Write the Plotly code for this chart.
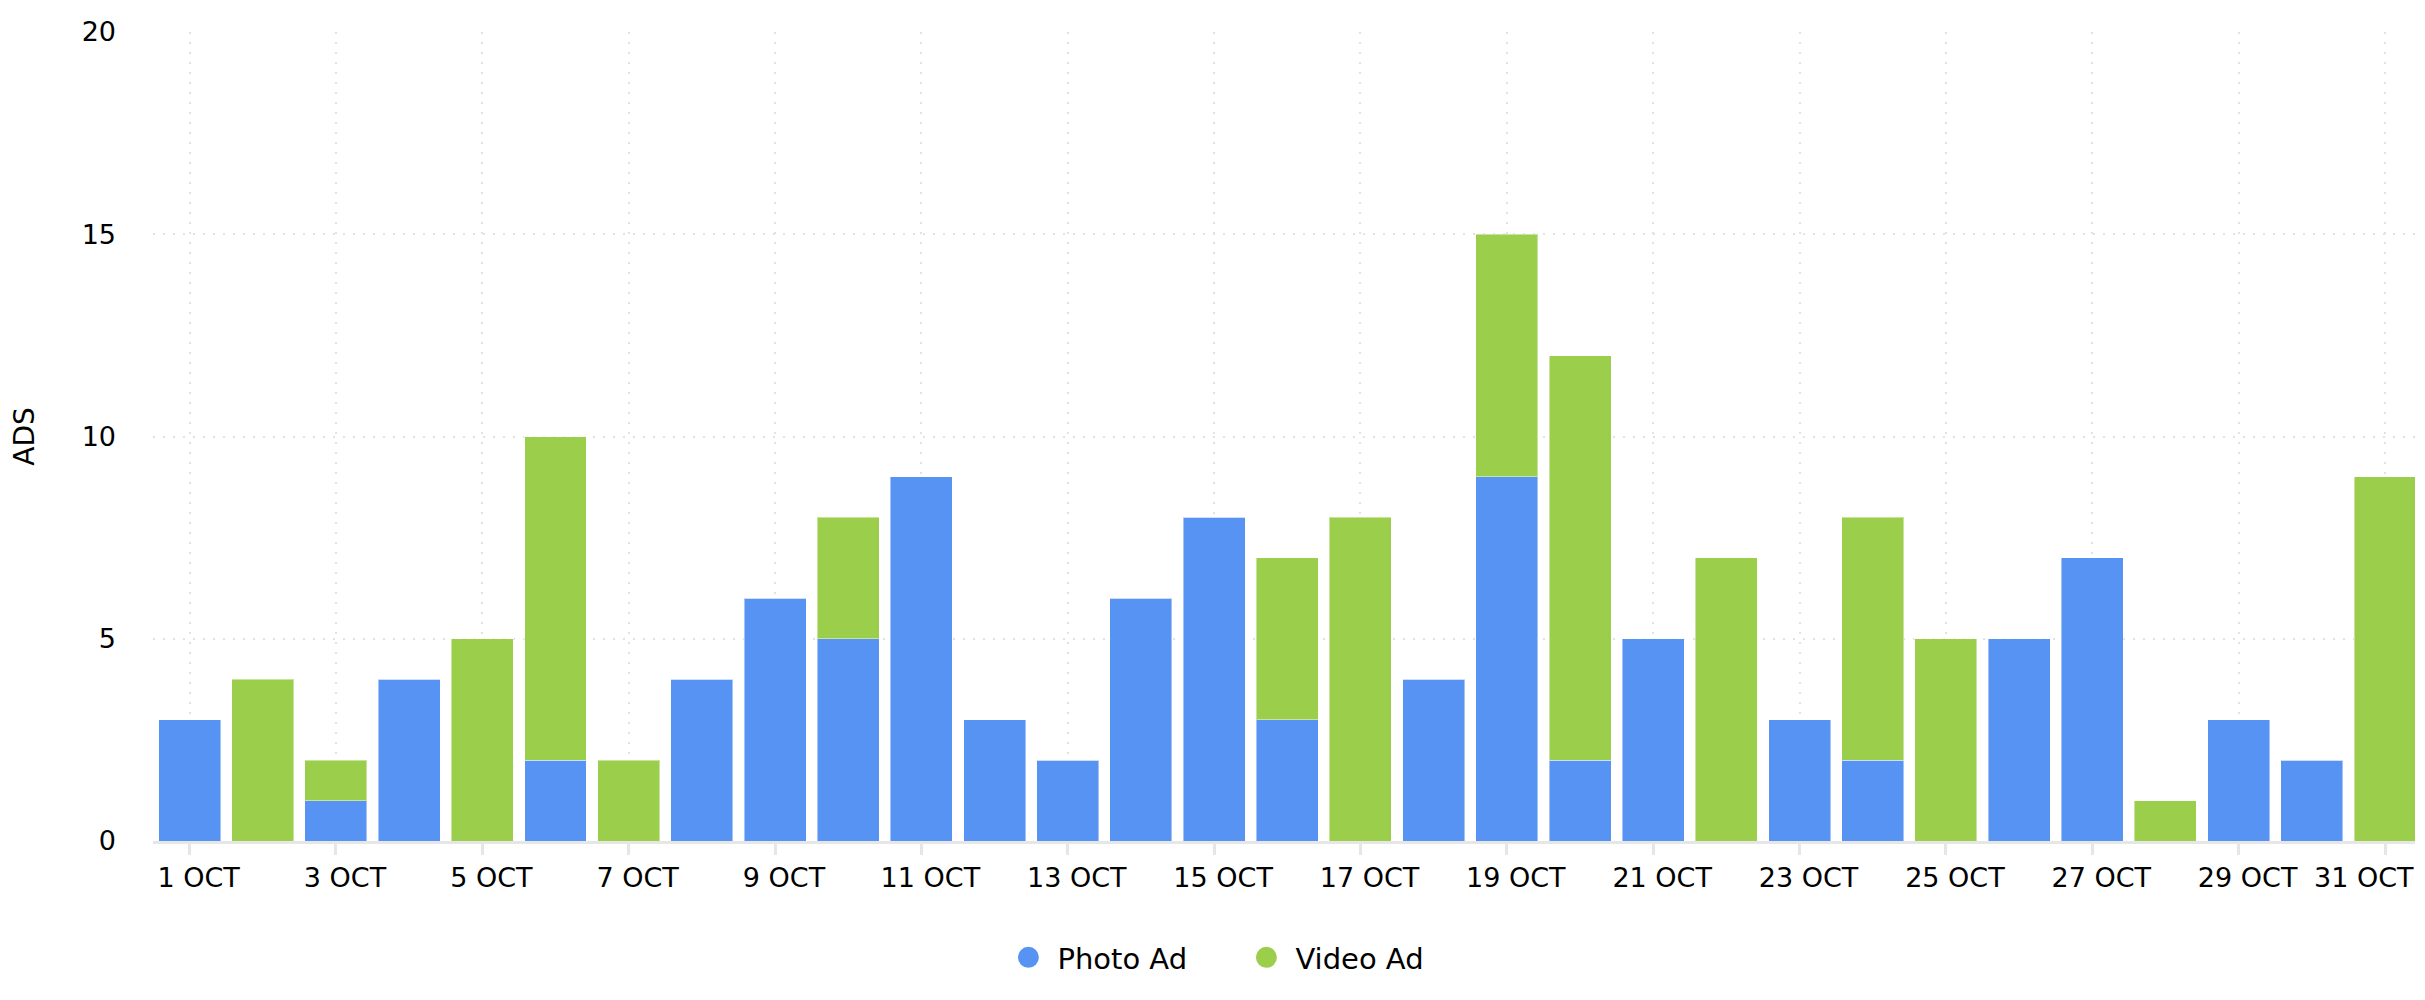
import plotly.graph_objects as go

# ---- data ----
days = list(range(1, 32))
photo_ad = [3, 0, 1, 4, 0, 2, 0, 4, 6, 5, 9, 3, 2, 6, 8, 3, 0, 4, 9, 2, 5, 0, 3, 2, 0, 5, 7, 0, 3, 2, 0]
video_ad = [0, 4, 1, 0, 5, 8, 2, 0, 0, 3, 0, 0, 0, 0, 0, 4, 8, 0, 6, 10, 0, 7, 0, 6, 5, 0, 0, 1, 0, 0, 9]
tick_days = list(range(1, 32, 2))
tick_labels = ["1 OCT", "3 OCT", "5 OCT", "7 OCT", "9 OCT", "11 OCT", "13 OCT", "15 OCT",
               "17 OCT", "19 OCT", "21 OCT", "23 OCT", "25 OCT", "27 OCT", "29 OCT", "31 OCT"]
y_ticks = [0, 5, 10, 15, 20]

BLUE = "#5793F3"
GREEN = "#9BCE4B"
FONT = "DejaVu Sans"
X_RANGE = [0.5, 31.41]

# main axis carries all ticks; the last label is drawn by an overlay axis that
# right-aligns it so it stays inside the page (as in the reference)
main_text = tick_labels[:-1] + [""]

fig = go.Figure()
fig.add_trace(go.Bar(x=days, y=photo_ad, name="Photo Ad", marker=dict(color=BLUE, line=dict(color="rgba(255,255,255,0.45)", width=1)),
                     showlegend=False, legendgroup="p"))
fig.add_trace(go.Bar(x=days, y=video_ad, name="Video Ad", marker=dict(color=GREEN, line=dict(color="rgba(255,255,255,0.45)", width=1)),
                     showlegend=False, legendgroup="v"))
fig.add_trace(go.Scatter(x=[None], y=[None], mode="markers", name="Photo Ad", legendgroup="p",
                         marker=dict(symbol="circle", size=16, color=BLUE, line=dict(color=BLUE, width=5))))
fig.add_trace(go.Scatter(x=[None], y=[None], mode="markers", name="Video Ad", legendgroup="v",
                         marker=dict(symbol="circle", size=16, color=GREEN, line=dict(color=GREEN, width=5))))
fig.add_trace(go.Scatter(x=[None], y=[None], xaxis="x2", mode="markers", showlegend=False, hoverinfo="skip"))

fig.update_layout(
    width=2425, height=1000, autosize=False,
    margin=dict(l=145, r=18, t=24, b=167, autoexpand=False),
    paper_bgcolor="white", plot_bgcolor="white",
    font=dict(family=FONT, size=27, color="#000000"),
    barmode="stack", bargap=0.153,
    legend=dict(orientation="h", x=0.4794, xanchor="center",
                y=-0.144, yanchor="middle",
                font=dict(size=29, family=FONT, color="#000000"), itemsizing="trace",
                itemwidth=48, entrywidth=175, entrywidthmode="pixels",
                traceorder="normal", tracegroupgap=0),
    xaxis=dict(
        range=X_RANGE, tickmode="array", tickvals=tick_days, ticktext=main_text,
        showgrid=True, gridcolor="#e2e2e2", griddash="2px,8px", gridwidth=2,
        showline=True, linecolor="#e6e6e6", linewidth=3,
        ticks="outside", ticklen=11, tickwidth=3, tickcolor="#e6e6e6",
        ticklabelshift=9, ticklabelstandoff=0, ticklabeloverflow="allow",
        tickangle=0, automargin=False,
        zeroline=False, fixedrange=True,
        tickfont=dict(size=27, family=FONT, color="#000000"),
    ),
    xaxis2=dict(
        overlaying="x", anchor="y", side="bottom", range=X_RANGE,
        tickmode="array", tickvals=tick_days[-1:], ticktext=tick_labels[-1:],
        showgrid=False, showline=False, zeroline=False,
        ticks="outside", ticklen=11, tickwidth=3, tickcolor="rgba(0,0,0,0)",
        ticklabelposition="outside left", ticklabelshift=30, ticklabelstandoff=13,
        ticklabeloverflow="allow", tickangle=0, automargin=False, fixedrange=True,
        tickfont=dict(size=27, family=FONT, color="#000000"),
    ),
    yaxis=dict(
        range=[0, 20], tickmode="array", tickvals=y_ticks,
        showgrid=True, gridcolor="#e2e2e2", griddash="2px,8px", gridwidth=2,
        zeroline=False, showline=False, ticks="", automargin=False,
        ticklabelstandoff=36,
        title=dict(text="ADS", font=dict(size=28, family=FONT, color="#000000"), standoff=46),
        tickfont=dict(size=27, family=FONT, color="#000000"),
    ),
)

fig.write_html("out.html")
